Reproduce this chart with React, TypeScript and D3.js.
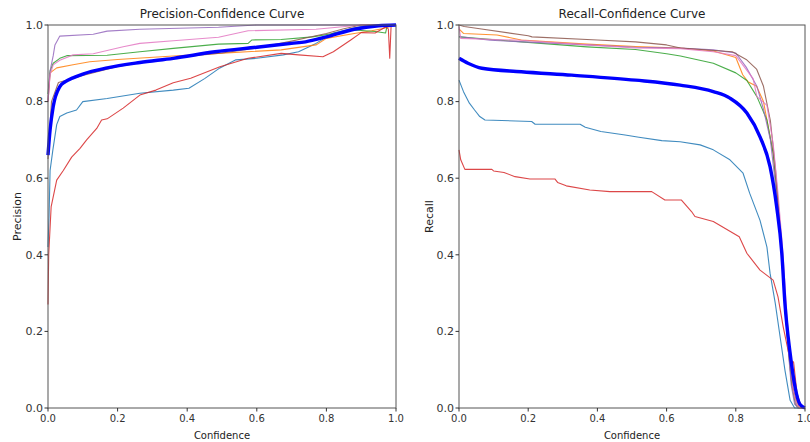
import * as d3 from "d3";

const W = 810;
const H = 442;

// tick values, shared by both panels
const ticks = [0, 0.2, 0.4, 0.6, 0.8, 1.0];

// class colours (matplotlib tab10 order) and the "all classes" line
const classColors = ["#1f77b4", "#ff7f0e", "#2ca02c", "#d62728", "#9467bd", "#8c564b", "#e377c2"];
const allColor = "#0000ff";

// precision vs confidence, [confidence, precision]
const precC0 = [[0, 0.42], [0.003, 0.5], [0.006, 0.62], [0.014, 0.674], [0.025, 0.74], [0.034, 0.761], [0.054, 0.77], [0.082, 0.778], [0.1, 0.8], [0.17, 0.808], [0.264, 0.822], [0.36, 0.83], [0.405, 0.835], [0.45, 0.86], [0.494, 0.888], [0.54, 0.909], [0.6, 0.913], [0.676, 0.922], [0.72, 0.93], [0.77, 0.952], [0.82, 0.979], [0.87, 0.99], [0.92, 1], [1, 1]];
const precC1 = [[0, 0.8], [0.006, 0.875], [0.025, 0.888], [0.072, 0.896], [0.12, 0.904], [0.2, 0.91], [0.36, 0.919], [0.49, 0.926], [0.67, 0.935], [0.77, 0.948], [0.8, 0.965], [0.88, 0.978], [0.93, 0.985], [0.96, 0.99], [1, 1]];
const precC2 = [[0, 0.82], [0.006, 0.88], [0.015, 0.9], [0.034, 0.913], [0.054, 0.92], [0.17, 0.921], [0.264, 0.93], [0.36, 0.939], [0.49, 0.95], [0.575, 0.952], [0.586, 0.961], [0.67, 0.962], [0.76, 0.969], [0.88, 0.987], [0.94, 0.983], [0.97, 0.979], [0.975, 1], [1, 1]];
const precC3 = [[0, 0.27], [0.002, 0.4], [0.009, 0.525], [0.025, 0.595], [0.044, 0.62], [0.068, 0.655], [0.092, 0.678], [0.111, 0.7], [0.14, 0.73], [0.154, 0.752], [0.17, 0.755], [0.216, 0.783], [0.264, 0.817], [0.31, 0.83], [0.36, 0.849], [0.41, 0.861], [0.494, 0.891], [0.575, 0.913], [0.67, 0.926], [0.72, 0.922], [0.79, 0.917], [0.82, 0.93], [0.87, 0.961], [0.9, 0.98], [0.94, 0.979], [0.97, 0.995], [0.978, 0.99], [0.982, 0.913], [0.986, 1], [1, 1]];
const precC4 = [[0, 0.8], [0.006, 0.88], [0.015, 0.92], [0.02, 0.948], [0.034, 0.971], [0.13, 0.976], [0.17, 0.984], [0.264, 0.989], [0.49, 0.994], [0.6, 1], [1, 1]];
const precC5 = [[0, 0.65], [0.01, 0.8], [0.03, 0.85], [0.1, 0.868], [0.2, 0.892], [0.3, 0.906], [0.4, 0.918], [0.5, 0.927], [0.6, 0.94], [0.7, 0.958], [0.75, 0.968], [0.8, 0.978], [0.85, 0.99], [0.9, 1], [1, 1]];
const precC6 = [[0, 0.8], [0.006, 0.87], [0.015, 0.896], [0.034, 0.908], [0.072, 0.922], [0.13, 0.925], [0.216, 0.943], [0.264, 0.952], [0.36, 0.959], [0.49, 0.968], [0.575, 0.985], [0.77, 0.989], [0.9, 1], [1, 1]];
const precAll = [[0, 0.66], [0.006, 0.726], [0.015, 0.787], [0.034, 0.839], [0.05, 0.852], [0.072, 0.862], [0.1, 0.872], [0.17, 0.888], [0.264, 0.902], [0.36, 0.913], [0.48, 0.93], [0.6, 0.942], [0.7, 0.952], [0.74, 0.956], [0.8, 0.969], [0.88, 0.989], [0.95, 0.998], [1, 1]];

// recall vs confidence, [confidence, recall]
const recC0 = [[0, 0.856], [0.013, 0.826], [0.03, 0.796], [0.045, 0.778], [0.06, 0.761], [0.075, 0.752], [0.21, 0.748], [0.22, 0.741], [0.35, 0.741], [0.365, 0.733], [0.41, 0.722], [0.48, 0.713], [0.52, 0.707], [0.586, 0.698], [0.639, 0.695], [0.697, 0.687], [0.735, 0.674], [0.783, 0.648], [0.821, 0.613], [0.84, 0.561], [0.87, 0.49], [0.89, 0.42], [0.899, 0.352], [0.914, 0.274], [0.928, 0.186], [0.942, 0.099], [0.957, 0.02], [0.97, 0], [1, 0]];
const recC1 = [[0, 0.99], [0.013, 0.978], [0.11, 0.974], [0.18, 0.961], [0.37, 0.95], [0.51, 0.944], [0.64, 0.94], [0.735, 0.932], [0.8, 0.915], [0.82, 0.87], [0.835, 0.852], [0.86, 0.84], [0.88, 0.8], [0.89, 0.752], [0.908, 0.665], [0.922, 0.535], [0.933, 0.4], [0.942, 0.27], [0.952, 0.15], [0.962, 0.06], [0.975, 0.02], [0.985, 0], [1, 0]];
const recC2 = [[0, 0.969], [0.18, 0.956], [0.37, 0.943], [0.51, 0.936], [0.6, 0.925], [0.64, 0.919], [0.735, 0.9], [0.8, 0.875], [0.832, 0.855], [0.861, 0.813], [0.89, 0.752], [0.908, 0.665], [0.922, 0.535], [0.933, 0.4], [0.942, 0.27], [0.952, 0.15], [0.962, 0.06], [0.972, 0.01], [0.98, 0], [1, 0]];
const recC3 = [[0, 0.674], [0.005, 0.648], [0.017, 0.623], [0.095, 0.623], [0.1, 0.619], [0.13, 0.615], [0.162, 0.604], [0.205, 0.598], [0.277, 0.598], [0.285, 0.589], [0.31, 0.58], [0.378, 0.569], [0.436, 0.565], [0.557, 0.565], [0.595, 0.543], [0.643, 0.543], [0.672, 0.513], [0.682, 0.5], [0.735, 0.487], [0.81, 0.447], [0.832, 0.404], [0.87, 0.36], [0.908, 0.334], [0.922, 0.29], [0.937, 0.212], [0.957, 0.125], [0.967, 0.12], [0.977, 0.038], [0.99, 0], [1, 0]];
const recC4 = [[0, 0.97], [0.09, 0.96], [0.37, 0.948], [0.51, 0.942], [0.64, 0.94], [0.735, 0.935], [0.8, 0.927], [0.83, 0.89], [0.861, 0.84], [0.88, 0.78], [0.9, 0.7], [0.915, 0.58], [0.928, 0.45], [0.94, 0.3], [0.95, 0.17], [0.96, 0.06], [0.97, 0.01], [0.98, 0], [1, 0]];
const recC5 = [[0, 1.0], [0.015, 0.996], [0.06, 0.99], [0.2, 0.972], [0.211, 0.969], [0.4, 0.961], [0.51, 0.956], [0.6, 0.948], [0.64, 0.94], [0.79, 0.93], [0.83, 0.91], [0.86, 0.885], [0.88, 0.84], [0.9, 0.75], [0.915, 0.62], [0.93, 0.45], [0.94, 0.3], [0.955, 0.15], [0.965, 0.05], [0.975, 0.01], [0.985, 0], [1, 0]];
const recC6 = [[0, 0.996], [0.005, 0.965], [0.18, 0.96], [0.37, 0.948], [0.51, 0.94], [0.64, 0.938], [0.735, 0.93], [0.8, 0.92], [0.85, 0.86], [0.861, 0.813], [0.89, 0.79], [0.908, 0.69], [0.922, 0.56], [0.935, 0.42], [0.945, 0.28], [0.955, 0.15], [0.965, 0.05], [0.975, 0.01], [0.985, 0], [1, 0]];
const recAll = [[0, 0.913], [0.026, 0.9], [0.066, 0.887], [0.18, 0.878], [0.326, 0.869], [0.51, 0.856], [0.639, 0.843], [0.735, 0.826], [0.783, 0.809], [0.832, 0.77], [0.87, 0.708], [0.899, 0.63], [0.918, 0.526], [0.933, 0.404], [0.942, 0.273], [0.957, 0.143], [0.971, 0.056], [0.985, 0.01], [1, 0]];

const precSeries = [precC0, precC1, precC2, precC3, precC4, precC5, precC6];
const recSeries = [recC0, recC1, recC2, recC3, recC4, recC5, recC6];

const top = 25;
const bottom = 408;
const font = "DejaVu Sans, sans-serif";

type PanelProps = {
  left: number;
  right: number;
  title: string;
  ylabel: string;
  ylabelX: number;
  series: number[][][];
  all: number[][];
};

const Panel = ({ left, right, title, ylabel, ylabelX, series, all }: PanelProps) => {
  const x = d3.scaleLinear().domain([0, 1]).range([left, right]);
  const y = d3.scaleLinear().domain([0, 1]).range([bottom, top]);
  const line = d3
    .line<number[]>()
    .x((d) => x(d[0]))
    .y((d) => y(d[1]));
  // the mean curve is smooth, so round it off
  const smoothLine = d3
    .line<number[]>()
    .curve(d3.curveMonotoneX)
    .x((d) => x(d[0]))
    .y((d) => y(d[1]));
  const midX = (left + right) / 2;

  return (
    <g>
      {series.map((s, i) => (
        <path
          key={i}
          d={line(s) ?? ""}
          fill="none"
          stroke={classColors[i]}
          strokeWidth={1.1}
          strokeOpacity={0.85}
          strokeLinejoin="round"
        />
      ))}
      <path d={smoothLine(all) ?? ""} fill="none" stroke={allColor} strokeWidth={3.4} strokeLinejoin="round" />

      {/* frame */}
      <rect x={left} y={top} width={right - left} height={bottom - top} fill="none" stroke="#555" strokeWidth={1} />

      {/* y ticks */}
      {ticks.map((t) => (
        <g key={"y" + t}>
          <line x1={left - 3.5} x2={left} y1={y(t)} y2={y(t)} stroke="#333" />
          <text x={left - 5} y={y(t)} dy="0.35em" textAnchor="end" fontSize={11} fill="#333" fontFamily={font}>
            {t.toFixed(1)}
          </text>
        </g>
      ))}
      {/* x ticks */}
      {ticks.map((t) => (
        <g key={"x" + t}>
          <line x1={x(t)} x2={x(t)} y1={bottom} y2={bottom + 3.5} stroke="#333" />
          <text x={x(t)} y={422} textAnchor="middle" fontSize={10} fill="#333" fontFamily={font}>
            {t.toFixed(1)}
          </text>
        </g>
      ))}

      <text x={midX} y={18} textAnchor="middle" fontSize={12} fill="#222" fontFamily={font}>
        {title}
      </text>
      <text x={midX} y={439} textAnchor="middle" fontSize={10} fill="#222" fontFamily={font}>
        Confidence
      </text>
      <text
        transform={`translate(${ylabelX},${(top + bottom) / 2}) rotate(-90)`}
        textAnchor="middle"
        dy="0.35em"
        fontSize={11}
        fill="#222"
        fontFamily={font}
      >
        {ylabel}
      </text>
    </g>
  );
};

export default function App() {
  return (
    <div style={{ position: "fixed", left: 0, top: 0 }}>
      <svg width={W} height={H} viewBox={`0 0 ${W} ${H}`} style={{ display: "block", background: "#fff" }}>
        <Panel left={48} right={396} title="Precision-Confidence Curve" ylabel="Precision" ylabelX={17} series={precSeries} all={precAll} />
        <Panel left={459} right={805} title="Recall-Confidence Curve" ylabel="Recall" ylabelX={429} series={recSeries} all={recAll} />
      </svg>
    </div>
  );
}
